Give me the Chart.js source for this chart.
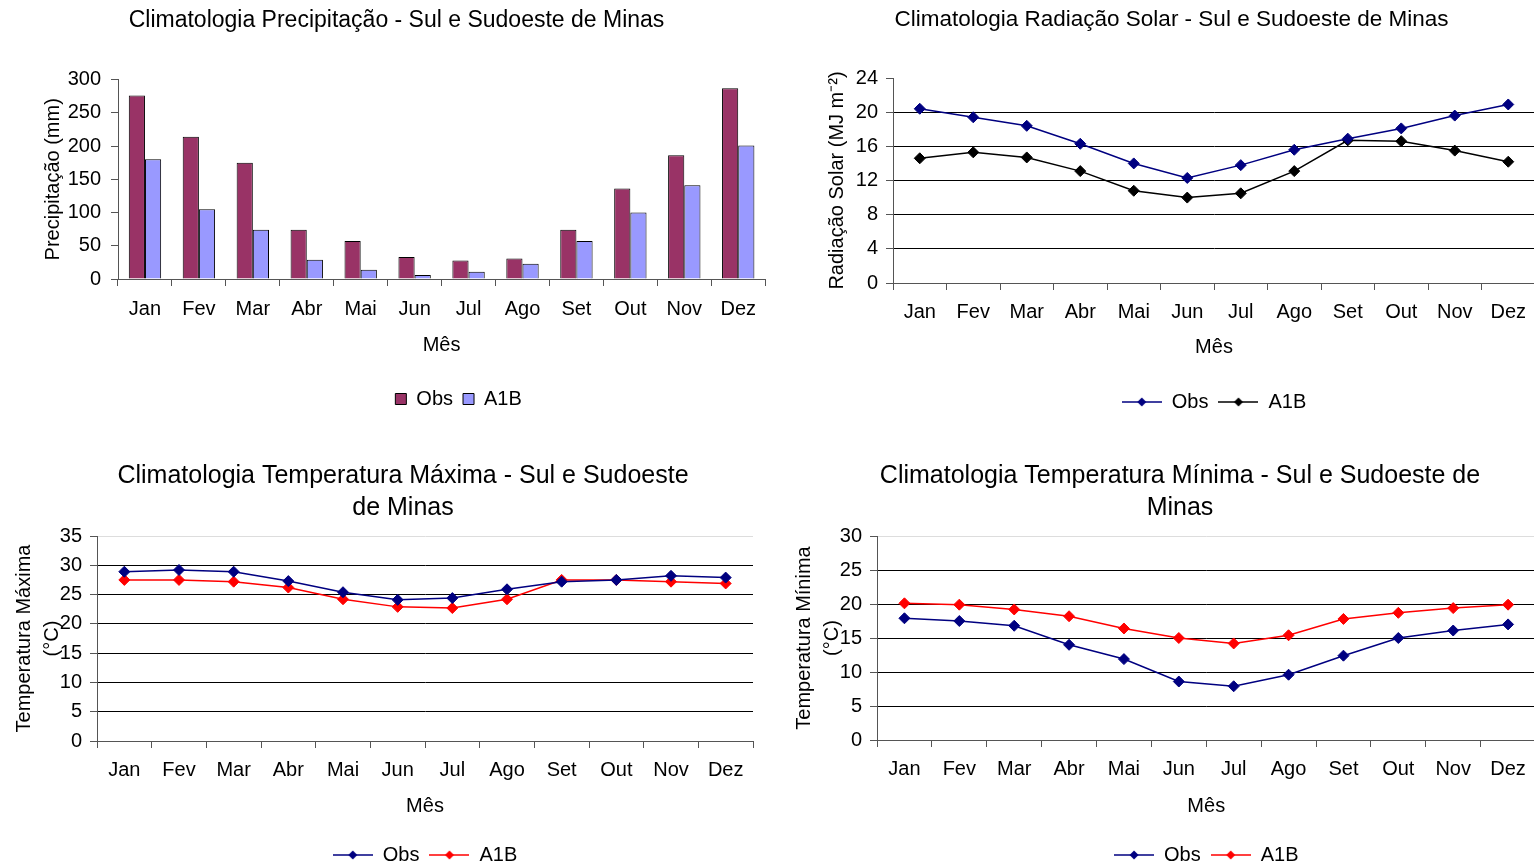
<!DOCTYPE html>
<html>
<head>
<meta charset="utf-8">
<script src="https://cdn.jsdelivr.net/npm/chart.js@4"></script>
<style>
  html, body { margin: 0; padding: 0; background: #fff; overflow: hidden; width: 1534px; height: 867px; }
  canvas { position: absolute; }
</style>
</head>
<body>
<canvas id="c1" width="767" height="430" style="left:0;top:0"></canvas>
<canvas id="c2" width="775" height="430" style="left:767px;top:0"></canvas>
<canvas id="c3" width="767" height="450" style="left:0;top:430px"></canvas>
<canvas id="c4" width="775" height="450" style="left:767px;top:430px"></canvas>
<script>
const months = ['Jan', 'Fev', 'Mar', 'Abr', 'Mai', 'Jun', 'Jul', 'Ago', 'Set', 'Out', 'Nov', 'Dez'];

// precipitação (mm)
const precipObs = [276, 214, 175, 74, 57, 33, 28, 31, 74, 136, 186, 287];
const precipA1B = [180, 105, 74, 29, 14, 6, 11, 23, 57, 100, 141, 201];

// radiação solar (MJ m-2)
const radObs = [20.4, 19.4, 18.4, 16.3, 14.0, 12.3, 13.8, 15.6, 16.9, 18.1, 19.6, 20.9];
const radA1B = [14.6, 15.3, 14.7, 13.1, 10.8, 10.0, 10.5, 13.1, 16.7, 16.6, 15.5, 14.2];

// temperatura maxima / minima (C)
const tmaxObs = [28.9, 29.2, 28.9, 27.3, 25.4, 24.1, 24.4, 25.9, 27.2, 27.5, 28.2, 27.9];
const tmaxA1B = [27.5, 27.5, 27.2, 26.2, 24.2, 22.9, 22.7, 24.2, 27.5, 27.5, 27.2, 26.9];
const tminObs = [17.9, 17.5, 16.8, 14.0, 11.9, 8.6, 7.9, 9.6, 12.4, 15.0, 16.1, 17.0];
const tminA1B = [20.1, 19.9, 19.2, 18.2, 16.4, 15.0, 14.2, 15.4, 17.8, 18.7, 19.4, 19.9];

Chart.defaults.font.family = "'Liberation Sans', Arial, sans-serif";
Chart.defaults.font.size = 20;
Chart.defaults.color = '#000';
Chart.defaults.animation = false;

const axisGray = '#555';

// little line+diamond picture for the legend
function lineMarker(color) {
  const c = document.createElement('canvas');
  c.width = 40; c.height = 12;
  const g = c.getContext('2d');
  g.strokeStyle = color; g.lineWidth = 1.5;
  g.beginPath(); g.moveTo(0, 6); g.lineTo(40, 6); g.stroke();
  g.fillStyle = color;
  g.beginPath(); g.moveTo(20, 1.5); g.lineTo(24.5, 6); g.lineTo(20, 10.5); g.lineTo(15.5, 6); g.closePath(); g.fill();
  return c;
}

function xScale(h, titlePad, tickPad) {
  return {
    offset: true,
    grid: { offset: true, drawOnChartArea: false, color: axisGray, tickLength: 7 },
    border: { color: axisGray },
    ticks: { padding: tickPad, maxRotation: 0, autoSkip: false },
    title: { display: true, text: 'Mês', padding: { top: 0, bottom: titlePad } },
    afterFit: s => { s.height = h; }
  };
}

function yScale(max, step, w, title, titlePad, tickPad, gridOn, topColor) {
  return {
    min: 0, max: max,
    ticks: { stepSize: step, padding: tickPad },
    grid: {
      drawOnChartArea: gridOn,
      tickLength: 7,
      tickColor: axisGray,
      color: c => (c.tick && c.tick.value === max) ? topColor : '#000'
    },
    border: { color: axisGray },
    title: { display: true, text: title, padding: { top: titlePad, bottom: 0 }, font: { lineHeight: 1.4 } },
    afterFit: s => { s.width = w; }
  };
}

function lineLegend() {
  return {
    position: 'bottom',
    fullSize: false,
    labels: {
      usePointStyle: true,
      pointStyleWidth: 40,
      padding: 10,
      generateLabels: chart => Chart.defaults.plugins.legend.labels.generateLabels(chart).map(it => {
        it.pointStyle = lineMarker(chart.data.datasets[it.datasetIndex].borderColor);
        return it;
      })
    }
  };
}

function lineSet(label, data, color) {
  return {
    label: label, data: data,
    borderColor: color, backgroundColor: color,
    borderWidth: 1.5,
    pointStyle: 'rectRot', pointRadius: 5.5, pointBorderWidth: 1,
    tension: 0
  };
}

// the original titles / legend sit a bit right of where chart.js centres them
const shiftBoxes = {
  id: 'shiftBoxes',
  afterLayout(chart, args, opts) {
    if (chart.titleBlock && opts.titleDx) {
      chart.titleBlock.left += opts.titleDx;
      chart.titleBlock.right += opts.titleDx;
    }
    if (chart.legend && opts.legendDx) {
      chart.legend.left += opts.legendDx;
      chart.legend.right += opts.legendDx;
    }
  }
};
Chart.register(shiftBoxes);

// 1 - precipitação
new Chart(document.getElementById('c1'), {
  type: 'bar',
  data: {
    labels: months,
    datasets: [
      { label: 'Obs', data: precipObs, backgroundColor: '#993366', borderColor: '#000', borderWidth: 1 },
      { label: 'A1B', data: precipA1B, backgroundColor: '#9999FF', borderColor: '#000', borderWidth: 1 }
    ]
  },
  options: {
    responsive: false,
    categoryPercentage: 0.6,
    barPercentage: 1.0,
    layout: { padding: { left: 0, right: 0, top: 0, bottom: 11 } },
    plugins: {
      title: { display: true, text: 'Climatologia Precipitação - Sul e Sudoeste de Minas', font: { size: 23, weight: 'normal' }, padding: { top: 7, bottom: 45 } },
      legend: { position: 'bottom', fullSize: false, labels: { boxWidth: 11, boxHeight: 11, padding: 10 } },
      shiftBoxes: { titleDx: 13, legendDx: 17 },
      tooltip: { enabled: false }
    },
    scales: {
      x: xScale(100, 22, 11),
      y: yScale(300, 50, 118, 'Precipitação (mm)', 39, 10, false, '#000')
    }
  }
});

// 2 - radiação solar
new Chart(document.getElementById('c2'), {
  type: 'line',
  data: {
    labels: months,
    datasets: [lineSet('Obs', radObs, '#000080'), lineSet('A1B', radA1B, '#000000')]
  },
  options: {
    responsive: false,
    layout: { padding: { left: 0, right: 7, top: 0, bottom: 8 } },
    plugins: {
      title: { display: true, text: 'Climatologia Radiação Solar - Sul e Sudoeste de Minas', font: { size: 22.5, weight: 'normal' }, padding: { top: 6, bottom: 45 } },
      legend: lineLegend(),
      shiftBoxes: { titleDx: 20.5 },
      tooltip: { enabled: false }
    },
    scales: {
      x: xScale(99, 23, 10),
      y: yScale(24, 4, 126, 'Radiação Solar (MJ m⁻²)', 56, 8, true, 'rgba(0,0,0,0)')
    }
  }
});

// 3 - temperatura maxima
new Chart(document.getElementById('c3'), {
  type: 'line',
  data: {
    labels: months,
    datasets: [lineSet('Obs', tmaxObs, '#000080'), lineSet('A1B', tmaxA1B, '#FF0000')]
  },
  options: {
    responsive: false,
    layout: { padding: { left: 0, right: 14, top: 0, bottom: 5 } },
    plugins: {
      title: { display: true, text: ['Climatologia Temperatura Máxima - Sul e Sudoeste', 'de Minas'], font: { size: 25, weight: 'normal', lineHeight: '32px' }, padding: { top: 30, bottom: 12 } },
      legend: lineLegend(),
      shiftBoxes: { titleDx: 26.5 },
      tooltip: { enabled: false }
    },
    scales: {
      x: xScale(94, 17, 10),
      y: yScale(35, 5, 97, ['Temperatura Máxima', '(°C)'], 10, 8, true, '#ddd')
    }
  }
});

// 4 - temperatura minima
new Chart(document.getElementById('c4'), {
  type: 'line',
  data: {
    labels: months,
    datasets: [lineSet('Obs', tminObs, '#000080'), lineSet('A1B', tminA1B, '#FF0000')]
  },
  options: {
    responsive: false,
    layout: { padding: { left: 0, right: 5, top: 0, bottom: 5 } },
    plugins: {
      title: { display: true, text: ['Climatologia Temperatura Mínima - Sul e Sudoeste de', 'Minas'], font: { size: 25, weight: 'normal', lineHeight: '32px' }, padding: { top: 30, bottom: 12 } },
      legend: lineLegend(),
      shiftBoxes: { titleDx: 28 },
      tooltip: { enabled: false }
    },
    scales: {
      x: xScale(95, 17, 10),
      y: yScale(30, 5, 110, ['Temperatura Mínima', '(°C)'], 23, 8, true, '#ddd')
    }
  }
});
</script>
</body>
</html>
